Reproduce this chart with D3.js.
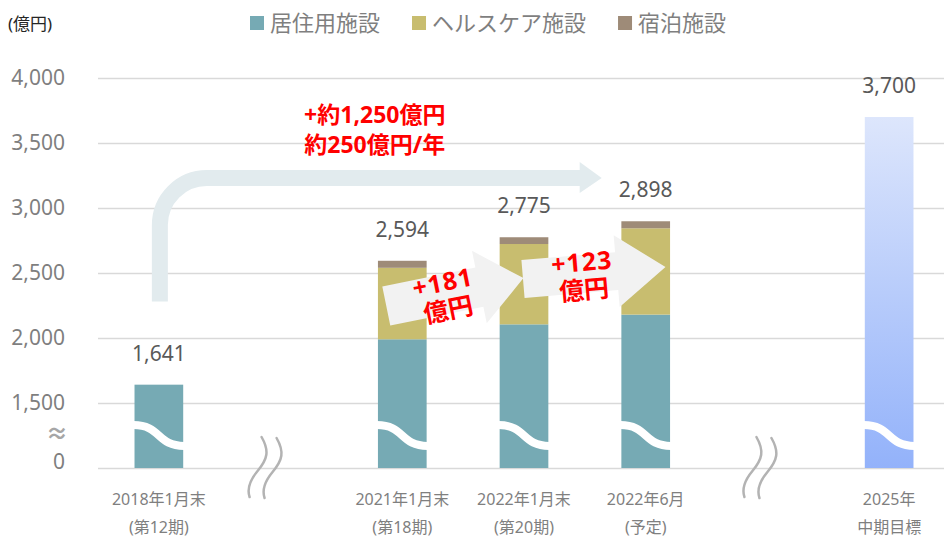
<!DOCTYPE html>
<html>
<head>
<meta charset="utf-8">
<script src="https://cdn.jsdelivr.net/npm/d3@7"></script>
<style>
body { margin: 0; background: #fff; }
text { font-family: "Noto Sans", "Noto Sans CJK JP", sans-serif; }
</style>
</head>
<body>
<script>
// ---- data ----
var categories  = ["2018-01", "gap1", "2021-01", "2022-01", "2022-06", "gap2", "2025"];
var labelTop    = ["2018年1月末", "", "2021年1月末", "2022年1月末", "2022年6月", "", "2025年"];
var labelBottom = ["(第12期)", "", "(第18期)", "(第20期)", "(予定)", "", "中期目標"];
var residential = [1641, null, 1990, 2105, 2180, null, null];
var healthcare  = [0, null, 550, 618, 664, null, null];
var lodging     = [0, null, 54, 52, 54, null, null];
var target      = [null, null, null, null, null, null, 3700];
var totals      = [1641, null, 2594, 2775, 2898, null, 3700];
var seriesNames = ["居住用施設", "ヘルスケア施設", "宿泊施設"];
// the axis is broken: the 1000 line is labelled 0
var tickValues = [1000, 1500, 2000, 2500, 3000, 3500, 4000];
var tickLabels = ["0", "1,500", "2,000", "2,500", "3,000", "3,500", "4,000"];

var colors = ["#76aab4", "#c8bd6f", "#9e8b78"];
var keys = ["res", "hc", "lod"];

var width = 944, height = 537;
var svg = d3.select("body").append("svg")
    .attr("width", width)
    .attr("height", height);

var x = d3.scaleBand().domain(categories).range([98, 950])
    .paddingInner(0.6).paddingOuter(0.3);
var y = d3.scaleLinear().domain([1000, 4000]).range([468, 78]).clamp(true);
function cx(c) { return x(c) + x.bandwidth() / 2; }

var defs = svg.append("defs");
var grad = defs.append("linearGradient").attr("id", "tgrad")
    .attr("x1", 0).attr("y1", 0).attr("x2", 0).attr("y2", 1);
grad.append("stop").attr("offset", "0%").attr("stop-color", "#dde6fc");
grad.append("stop").attr("offset", "100%").attr("stop-color", "#93b2fa");

// grid + y axis
var yAxis = d3.axisLeft(y)
    .tickValues(tickValues)
    .tickFormat(function(d, i) { return tickLabels[i]; })
    .tickSize(-(width - 98))
    .tickPadding(33);
var gy = svg.append("g").attr("transform", "translate(98,0)").call(yAxis);
gy.select(".domain").remove();
gy.selectAll("line").attr("stroke", "#d9d9d9").attr("stroke-width", 1.5);
gy.selectAll("text").attr("fill", "#7f7f7f").style("font-size", "21px");
gy.selectAll("text").filter(function(d) { return d === 1000; }).attr("y", -6);

svg.append("text")
    .attr("x", 57).attr("y", (y(1500) + y(1000)) / 2 + 5)
    .attr("text-anchor", "middle")
    .attr("fill", "#a6a6a6")
    .style("font-size", "22px").style("font-weight", "bold")
    .text("≈");

svg.append("text")
    .attr("x", 8).attr("y", 30)
    .attr("fill", "#262626")
    .style("font-size", "17px")
    .text("(億円)");

// stacked bars
var rows = categories.map(function(c, i) {
  return { cat: c, res: residential[i], hc: healthcare[i], lod: lodging[i] };
}).filter(function(d) { return d.res != null; });

var stacked = d3.stack().keys(keys)(rows);

svg.append("g").selectAll("g")
  .data(stacked)
  .enter().append("g")
    .attr("fill", function(d, i) { return colors[i]; })
  .selectAll("rect")
  .data(function(d) { return d; })
  .enter().append("rect")
    .attr("x", function(d) { return x(d.data.cat); })
    .attr("width", x.bandwidth())
    .attr("y", function(d) { return y(d[1]); })
    .attr("height", function(d) { return y(d[0]) - y(d[1]); });

// target bar
var targetRows = categories.map(function(c, i) { return { cat: c, v: target[i] }; })
    .filter(function(d) { return d.v != null; });
svg.append("g").selectAll("rect")
  .data(targetRows)
  .enter().append("rect")
    .attr("x", function(d) { return x(d.cat); })
    .attr("width", x.bandwidth())
    .attr("y", function(d) { return y(d.v); })
    .attr("height", function(d) { return y(1000) - y(d.v); })
    .attr("fill", "url(#tgrad)");

// white break wave across each bar
var barCats = categories.filter(function(c, i) { return totals[i] != null; });
svg.append("g").selectAll("path")
  .data(barCats)
  .enter().append("path")
    .attr("d", function(c) {
      var x0 = x(c), w = x.bandwidth(), x1 = x0 + w;
      var ya = y(1330), yb = y(1170);
      return "M" + (x0 - 1) + "," + ya + " C" + (x0 + 0.55 * w) + "," + ya + " " +
        (x1 - 0.55 * w) + "," + yb + " " + (x1 + 1) + "," + yb;
    })
    .attr("fill", "none")
    .attr("stroke", "#fff")
    .attr("stroke-width", 8);

// break marks between groups
var gaps = [{ cat: "gap1", dx: -19 }, { cat: "gap2", dx: -11 }];
var wave = "M0,0 C8,14 6,22 -4,34 S-14,54 -12,60";
gaps.forEach(function(g) {
  var gg = svg.append("g")
      .attr("transform", "translate(" + (cx(g.cat) + g.dx) + "," + (y(1000) - 31) + ")");
  [0, 15].forEach(function(off) {
    gg.append("path")
        .attr("d", wave)
        .attr("transform", "translate(" + off + "," + (off ? 1 : 0) + ")")
        .attr("fill", "none")
        .attr("stroke", "#b3b3b3")
        .attr("stroke-width", 2.5)
        .attr("stroke-linecap", "round");
  });
});

// value labels
svg.append("g").selectAll("text")
  .data(categories.map(function(c, i) { return { cat: c, v: totals[i] }; })
      .filter(function(d) { return d.v != null; }))
  .enter().append("text")
    .attr("x", function(d) { return cx(d.cat); })
    .attr("y", function(d) { return y(d.v) - 24; })
    .attr("text-anchor", "middle")
    .attr("fill", "#595959")
    .style("font-size", "21px")
    .text(function(d) { return d3.format(",")(d.v); });

// category labels
var xl = svg.append("g").selectAll("g")
  .data(categories.map(function(c, i) { return { cat: c, a: labelTop[i], b: labelBottom[i] }; })
      .filter(function(d) { return d.a; }))
  .enter().append("g");
xl.append("text")
    .attr("x", function(d) { return cx(d.cat); })
    .attr("y", 505)
    .attr("text-anchor", "middle")
    .attr("fill", "#7f7f7f")
    .style("font-size", "16px")
    .text(function(d) { return d.a; });
xl.append("text")
    .attr("x", function(d) { return cx(d.cat); })
    .attr("y", 533)
    .attr("text-anchor", "middle")
    .attr("fill", "#7f7f7f")
    .style("font-size", "16px")
    .text(function(d) { return d.b; });

// big curved arrow 2018 -> 2022/6
var big = { from: "2018-01", to: "2022-06", base: 2280, level: 3230, tipDx: -44, r: 47 };
var sx = cx(big.from) + 1, sy = y(big.base), ly = y(big.level), tipX = cx(big.to) + big.tipDx;
svg.append("path")
    .attr("d", "M" + sx + "," + sy + " V" + (ly + big.r) +
      " A" + big.r + "," + big.r + " 0 0 1 " + (sx + big.r) + "," + ly +
      " H" + (tipX - 21))
    .attr("fill", "none")
    .attr("stroke", "#e2ebee")
    .attr("stroke-width", 16);
svg.append("path")
    .attr("d", "M" + (tipX - 22) + "," + (ly - 16) + " L" + tipX + "," + ly +
      " L" + (tipX - 22) + "," + (ly + 15) + "Z")
    .attr("fill", "#e2ebee");

var bx = (sx + tipX) / 2 - 6;
var bigText = svg.append("text")
    .attr("fill", "#ff0000")
    .attr("text-anchor", "middle")
    .style("font-size", "23px").style("font-weight", "bold");
bigText.append("tspan").attr("x", bx).attr("y", 123).text("+約1,250億円");
bigText.append("tspan").attr("x", bx).attr("y", 153).text("約250億円/年");

// small step arrows
var steps = [
  { from: "2021-01", dx: -16, at: 2246, angle: -11.5, body: 95, len: 140, half: 20, head: 37, lines: ["+181", "億円"] },
  { from: "2022-01", dx: -1, at: 2454, angle: -4.8, body: 94, len: 143, half: 19, head: 36, lines: ["+123", "億円"] }
];
steps.forEach(function(s) {
  var g = svg.append("g")
      .attr("transform", "translate(" + (cx(s.from) + s.dx) + "," + y(s.at) + ") rotate(" + s.angle + ")");
  var pts = [[0, -s.half], [s.body, -s.half], [s.body, -s.head], [s.len, 0],
             [s.body, s.head], [s.body, s.half], [0, s.half]];
  g.append("polygon")
      .attr("points", pts.map(function(p) { return p.join(","); }).join(" "))
      .attr("fill", "#f2f2f2");
  g.selectAll("text")
    .data(s.lines)
    .enter().append("text")
      .attr("x", 60)
      .attr("y", function(d, i) { return i ? 25 : -3; })
      .attr("text-anchor", "middle")
      .attr("fill", "#ff0000")
      .style("font-size", "25px").style("font-weight", "bold")
      .style("letter-spacing", function(d, i) { return i ? "0px" : "1px"; })
      .text(function(d) { return d; });
});

// legend
var legend = svg.append("g");
var lx = 250;
seriesNames.forEach(function(name, i) {
  legend.append("rect")
      .attr("x", lx).attr("y", 16).attr("width", 14).attr("height", 14)
      .attr("fill", colors[i]);
  var t = legend.append("text")
      .attr("x", lx + 20).attr("y", 31)
      .attr("fill", "#7f7f7f")
      .style("font-size", "22px")
      .text(name);
  lx += 20 + t.node().getComputedTextLength() + 32;
});
</script>
</body>
</html>
